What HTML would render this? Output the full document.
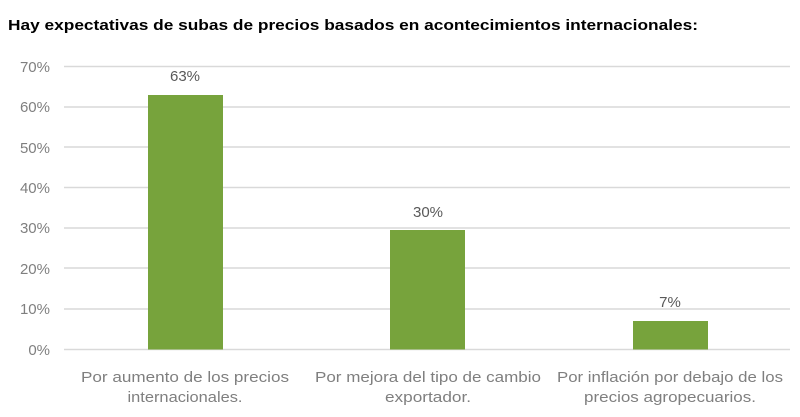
<!DOCTYPE html>
<html><head><style>body{margin:0;background:#fff}svg{display:block}</style></head><body>
<svg width="800" height="417" xmlns="http://www.w3.org/2000/svg" font-family="Liberation Sans, sans-serif">
<text x="8" y="30" font-size="15" font-weight="bold" fill="#000" textLength="690" lengthAdjust="spacingAndGlyphs">Hay expectativas de subas de precios basados en acontecimientos internacionales:</text>
<g stroke="#d9d9d9" stroke-width="1.5">
<line x1="64" x2="790" y1="66.5" y2="66.5"/><line x1="64" x2="790" y1="107" y2="107"/><line x1="64" x2="790" y1="147" y2="147"/><line x1="64" x2="790" y1="187.5" y2="187.5"/><line x1="64" x2="790" y1="228" y2="228"/><line x1="64" x2="790" y1="268" y2="268"/><line x1="64" x2="790" y1="309" y2="309"/><line x1="64" x2="790" y1="349.5" y2="349.5"/>
</g>
<g font-size="15" fill="#7f7f7f" text-anchor="end">
<text x="50" y="72">70%</text><text x="50" y="112">60%</text><text x="50" y="153">50%</text><text x="50" y="193">40%</text><text x="50" y="233">30%</text><text x="50" y="274">20%</text><text x="50" y="314">10%</text><text x="50" y="355">0%</text>
</g>
<g fill="#77a33c">
<rect x="148" y="95" width="75" height="254.5"/>
<rect x="390" y="230" width="75" height="119.5"/>
<rect x="633" y="321" width="75" height="28.5"/>
</g>
<g font-size="15" fill="#595959" text-anchor="middle">
<text x="185" y="81">63%</text><text x="428" y="217">30%</text><text x="670" y="307">7%</text>
</g>
<g font-size="15" fill="#7f7f7f" text-anchor="middle">
<text x="185" y="382" textLength="208" lengthAdjust="spacingAndGlyphs">Por aumento de los precios</text>
<text x="185" y="402" textLength="115" lengthAdjust="spacingAndGlyphs">internacionales.</text>
<text x="428" y="382" textLength="226" lengthAdjust="spacingAndGlyphs">Por mejora del tipo de cambio</text>
<text x="428" y="402" textLength="86" lengthAdjust="spacingAndGlyphs">exportador.</text>
<text x="670" y="382" textLength="226" lengthAdjust="spacingAndGlyphs">Por inflación por debajo de los</text>
<text x="670" y="402" textLength="172" lengthAdjust="spacingAndGlyphs">precios agropecuarios.</text>
</g>
</svg>
</body></html>
